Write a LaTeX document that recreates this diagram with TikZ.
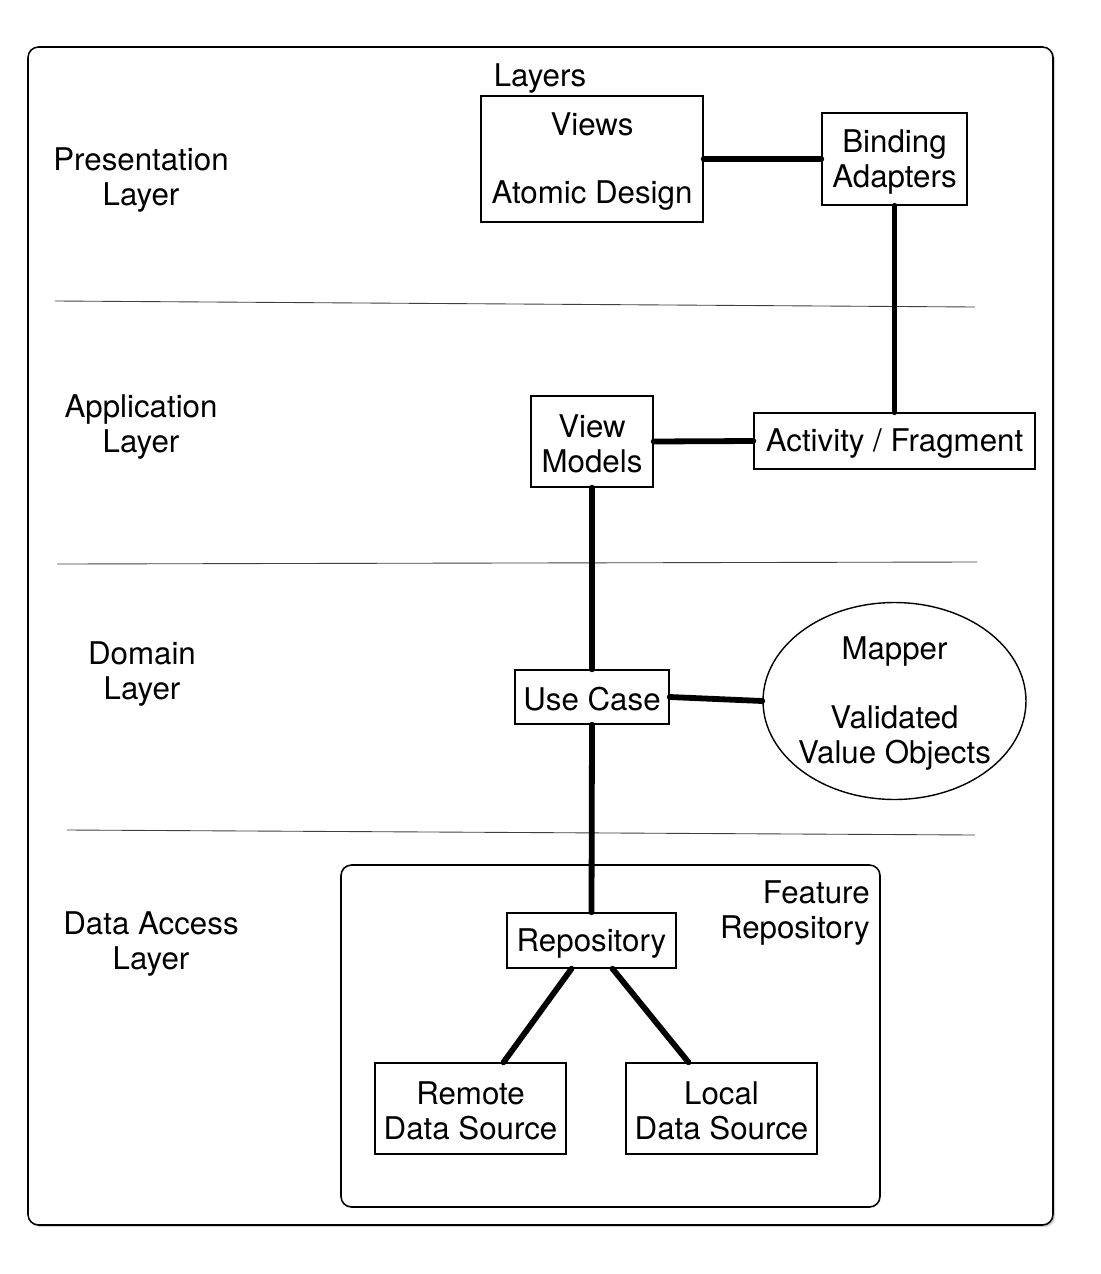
\documentclass[tikz,border=0pt]{standalone}
\usepackage{fontspec}
\setmainfont{TeX Gyre Heros}
\usetikzlibrary{shapes.geometric,calc,shadows}

\newcommand{\lift}{\rule{0pt}{16pt}}

\tikzset{
  lbl/.style={font=\fontsize{17.8}{19.8}\selectfont, align=center, inner sep=0pt},
  box/.style={lbl, draw, line width=0.8pt},
  link/.style={line width=3.3pt, line cap=round},
  sep/.style={line width=0.5pt, black!75},
}

\begin{document}
\begin{tikzpicture}[x=0.02cm,y=-0.02cm]
\useasboundingbox (0,0) rectangle (1100,1274);

% Outer frame
\draw[line width=0.9pt, rounded corners=6pt, fill=white,
  drop shadow={shadow xshift=1.2pt, shadow yshift=-1.2pt, opacity=0.35}]
  (28,47) rectangle (1053,1225);
\node[lbl] (layers) at (540,76) {\lift Layers};

% Layer names
\node[lbl] (presLayer) at (141,177) {\lift Presentation\\Layer};
\node[lbl] (appLayer) at (141,424) {\lift Application\\Layer};
\node[lbl] (domLayer) at (142,671) {\lift Domain\\Layer};
\node[lbl] (dataLayer) at (151,941) {\lift Data Access\\Layer};

% Separators
\draw[sep] (55,301) -- (975,307);
\draw[sep] (57,564) -- (977,562);
\draw[sep] (67,830) -- (975,835);

% Presentation
\node[box, minimum width=4.44cm, minimum height=2.52cm] (views) at (592,159)
  {\lift Views\\[19.3pt]Atomic Design};
\node[box, minimum width=2.9cm, minimum height=1.84cm] (binding) at (894.5,159)
  {\lift Binding\\Adapters};

% Application
\node[box, minimum width=2.44cm, minimum height=1.82cm] (vm) at (592,441.5)
  {\lift View\\Models};
\node[box, minimum width=5.62cm, minimum height=1.12cm] (activity) at (894.5,441)
  {\lift Activity / Fragment};

% Domain
\node[box, minimum width=3.08cm, minimum height=1.08cm] (usecase) at (592,697)
  {\lift Use Case};
\node[box, ellipse, inner sep=-4pt, minimum width=5.26cm, minimum height=3.94cm] (mapper)
  at (894.5,701) {\lift Mapper\\[19.3pt]Validated\\Value Objects};

% Data access
\draw[line width=0.9pt, rounded corners=6pt] (341,865) rectangle (880,1207);
\node[lbl, anchor=east, align=right] (feature) at (870,910.5) {\lift Feature\\Repository};
\node[box, minimum width=3.38cm, minimum height=1.1cm] (repo) at (591.5,940.5)
  {\lift Repository};
\node[box, minimum width=3.82cm, minimum height=1.82cm] (remote) at (470.5,1108.5)
  {\lift Remote\\Data Source};
\node[box, minimum width=3.82cm, minimum height=1.82cm] (local) at (721.5,1108.5)
  {\lift Local\\Data Source};

% Links
\draw[link] (views.east) -- (binding.west);
\draw[link] (binding.south) -- (activity.north);
\draw[link] (vm.east) -- (activity.west);
\draw[link] (vm.south) -- (usecase.north);
\draw[link] (usecase.east) -- (mapper.west);
\draw[link] (usecase.south) -- (repo.north);
\draw[link] ($(repo.south)+(-20,0)$) -- ($(remote.north)+(33,0)$);
\draw[link] ($(repo.south)+(21,0)$) -- ($(local.north)+(-33,0)$);
\end{tikzpicture}
\end{document}
